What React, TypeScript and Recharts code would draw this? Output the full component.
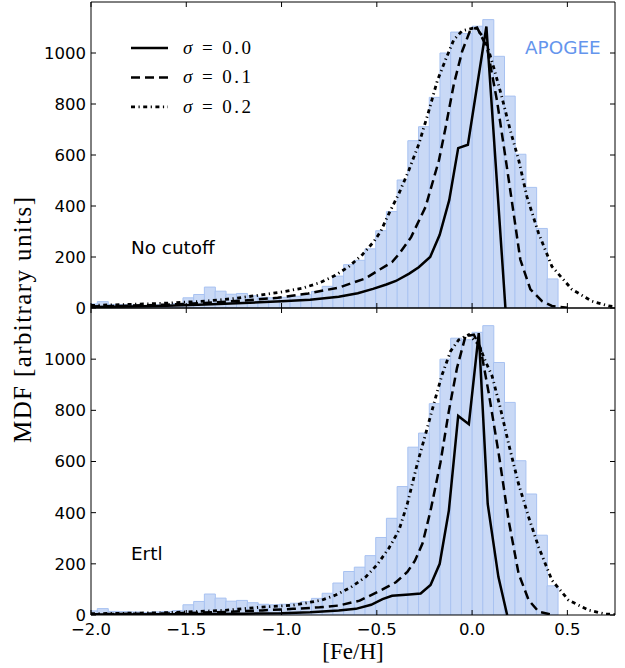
import React from 'react';
import { ComposedChart, Bar, Line, XAxis, YAxis, Legend } from 'recharts';

// APOGEE histogram: bin centres ([Fe/H]) and counts
const binCenters = [
  -1.9951, -1.9389, -1.8827, -1.8265, -1.7703, -1.7141, -1.6579, -1.6017, -1.5455, -1.4893,
  -1.4331, -1.3769, -1.3207, -1.2645, -1.2083, -1.1521, -1.0959, -1.0397, -0.9835, -0.9273,
  -0.8711, -0.8149, -0.7587, -0.7025, -0.6463, -0.5901, -0.5339, -0.4777, -0.4215, -0.3653,
  -0.3091, -0.2529, -0.1967, -0.1405, -0.0843, -0.0281, 0.0281, 0.0843, 0.1405, 0.1967,
  0.2529, 0.3091, 0.3653, 0.4215,
];
const apogeeCounts = [
  16, 25, 14, 13, 12, 10, 12, 14, 17, 40,
  53, 82, 66, 54, 57, 48, 42, 40, 42, 46,
  52, 65, 85, 125, 170, 187, 232, 303, 378, 502,
  656, 711, 826, 1000, 1082, 1076, 1105, 1131, 987, 831,
  603, 473, 312, 114,
];

const xTicks = [-2, -1.5, -1, -0.5, 0, 0.5];
const yTicks = [0, 200, 400, 600, 800, 1000];
const sigmaLabels = ['σ = 0.0', 'σ = 0.1', 'σ = 0.2'];

// model MDFs, [Fe/H, value]
const noCutoffSigma00 = [
  [-2.0, 4], [-1.8, 6], [-1.6, 9], [-1.4, 14], [-1.2, 20], [-1.0, 26], [-0.85, 32], [-0.7, 44],
  [-0.6, 58], [-0.52, 75], [-0.45, 92], [-0.4, 106], [-0.33, 135], [-0.28, 160], [-0.22, 200],
  [-0.17, 287], [-0.12, 423], [-0.073, 627], [-0.022, 640], [0.075, 1104], [0.175, 0],
];
const noCutoffSigma01 = [
  [-2.0, 6], [-1.8, 9], [-1.6, 13], [-1.4, 20], [-1.2, 29], [-1.02, 40], [-0.86, 57], [-0.7, 80],
  [-0.56, 116], [-0.5, 144], [-0.42, 180], [-0.38, 215], [-0.32, 278], [-0.244, 397], [-0.174, 579],
  [-0.139, 708], [-0.096, 877], [-0.052, 1007], [-0.009, 1091], [0.026, 1100], [0.079, 1020],
  [0.131, 812], [0.175, 591], [0.218, 371], [0.253, 190], [0.306, 73], [0.367, 27], [0.419, 8], [0.5, 1],
];
const noCutoffSigma02 = [
  [-2.0, 10], [-1.8, 14], [-1.6, 19], [-1.4, 27], [-1.25, 37], [-1.12, 50], [-0.99, 64], [-0.89, 78],
  [-0.8, 99], [-0.72, 127], [-0.646, 163], [-0.576, 209], [-0.515, 261], [-0.48, 300], [-0.436, 371],
  [-0.384, 449], [-0.332, 540], [-0.279, 644], [-0.227, 773], [-0.183, 890], [-0.139, 974],
  [-0.096, 1052], [-0.052, 1087], [0.018, 1100], [0.07, 1052], [0.114, 942], [0.157, 825],
  [0.201, 695], [0.245, 579], [0.288, 436], [0.349, 293], [0.419, 163], [0.524, 73], [0.628, 27],
  [0.716, 8], [0.75, 5],
];
const ertlSigma00 = [
  [-2.0, 2], [-1.6, 3], [-1.2, 5], [-1.0, 7], [-0.85, 11], [-0.7, 18], [-0.61, 24], [-0.53, 40],
  [-0.47, 62], [-0.42, 75], [-0.33, 80], [-0.27, 84], [-0.218, 117], [-0.17, 200], [-0.122, 408],
  [-0.073, 778], [-0.017, 746], [0.035, 1102], [0.082, 434], [0.138, 149], [0.184, 0],
];
const ertlSigma01 = [
  [-2.0, 3], [-1.6, 6], [-1.3, 12], [-1.1, 18], [-0.94, 24], [-0.8, 30], [-0.7, 37], [-0.59, 56],
  [-0.47, 100], [-0.4, 128], [-0.34, 168], [-0.3, 212], [-0.26, 280], [-0.218, 408], [-0.166, 596],
  [-0.122, 797], [-0.079, 966], [-0.035, 1089], [0.009, 1096], [0.044, 1044], [0.087, 869],
  [0.14, 629], [0.192, 369], [0.244, 162], [0.297, 58], [0.349, 13], [0.419, 1],
];
const ertlSigma02 = [
  [-2.0, 5], [-1.6, 9], [-1.3, 18], [-1.12, 30], [-0.94, 38], [-0.79, 58], [-0.716, 78], [-0.637, 108],
  [-0.558, 149], [-0.498, 197], [-0.436, 262], [-0.384, 331], [-0.34, 434], [-0.288, 590],
  [-0.244, 707], [-0.192, 849], [-0.157, 940], [-0.113, 1031], [-0.07, 1076], [-0.017, 1096],
  [0.035, 1057], [0.07, 992], [0.105, 934], [0.148, 810], [0.192, 668], [0.244, 512], [0.297, 382],
  [0.349, 266], [0.419, 136], [0.506, 58], [0.611, 19], [0.698, 4], [0.75, 2],
];

const histogram = binCenters.map((x, i) => ({ x, count: apogeeCounts[i] }));
const toPoints = (pairs: number[][]) => pairs.map(([x, v]) => ({ x, v }));

const dashes = [undefined, '9 5', '4 3.5 1.2 3.5'];
const widths = [2.5, 2.5, 2.8];
const X_DOMAIN = [-2, 0.75];
const Y_DOMAIN = [0, 1200];
const sans = 'DejaVu Sans';
const serif = 'Liberation Serif';
const tickFont = { fill: '#000', fontSize: 16.5, fontFamily: sans };
const blank = () => '';
const fmtX = (v: number) => (v < 0 ? '\u2212' : '') + Math.abs(v).toFixed(1);

function SigmaLegend({ payload }: any) {
  const items = (payload || []).filter((p: any) => p.type !== 'none');
  return (
    <svg width={150} height={95}>
      {items.map((p: any, i: number) => {
        const y = 18 + i * 29.4;
        const label: string = p.value;
        return (
          <g key={label}>
            <line x1={6} x2={43} y1={y} y2={y} stroke="#000" strokeWidth={widths[i]}
              strokeDasharray={dashes[i]} />
            <text x={58} y={y + 6} fontFamily={serif} fontSize={19} fill="#000"
              textLength={68} lengthAdjust="spacing">
              <tspan fontStyle="italic">{label[0]}</tspan>
              {label.slice(1)}
            </text>
          </g>
        );
      })}
    </svg>
  );
}

// one panel: plot area spans x 91..615, axes are 1px wide so they still render
function Panel({ height, margin, curves, bottom, title, titleY, legend }: any) {
  return (
    <ComposedChart width={625} height={height} margin={margin} data={histogram}
      barCategoryGap={0} barGap={0}>
      <XAxis
        xAxisId="fe"
        dataKey="x"
        type="number"
        domain={X_DOMAIN}
        allowDataOverflow
        ticks={xTicks}
        interval={0}
        height={bottom ? 53 : 1}
        stroke="#000"
        tickSize={-5}
        tickMargin={13}
        tick={tickFont}
        tickFormatter={bottom ? fmtX : blank}
        label={bottom ? { value: '[Fe/H]', position: 'insideBottom', offset: 9, fill: '#000', fontSize: 23, fontFamily: serif } : undefined}
      />
      <XAxis xAxisId="bins" dataKey="x" type="number" domain={X_DOMAIN} allowDataOverflow hide height={0} />
      <XAxis xAxisId="top" dataKey="x" orientation="top" type="number" domain={X_DOMAIN} allowDataOverflow
        ticks={xTicks} interval={0} height={1} stroke="#000" tickSize={-5} tickFormatter={blank} />
      <YAxis yAxisId="left" type="number" domain={Y_DOMAIN} allowDataOverflow ticks={yTicks}
        interval={0} width={1} stroke="#000" tickSize={-5} tickMargin={10} tick={tickFont} />
      <YAxis yAxisId="right" orientation="right" type="number" domain={Y_DOMAIN} allowDataOverflow
        ticks={yTicks} interval={0} width={1} stroke="#000" tickSize={-5} tickFormatter={blank} />
      <Bar xAxisId="bins" yAxisId="left" dataKey="count" fill="#c9d9f6"
        stroke="#a8c2f1" strokeWidth={1} legendType="none" isAnimationActive={false} />
      {curves.map((c: number[][], i: number) => (
        <Line
          key={sigmaLabels[i]}
          xAxisId="fe"
          yAxisId="left"
          data={toPoints(c)}
          dataKey="v"
          name={sigmaLabels[i]}
          type="linear"
          stroke="#000"
          strokeWidth={widths[i]}
          strokeDasharray={dashes[i]}
          dot={false}
          activeDot={false}
          isAnimationActive={false}
        />
      ))}
      {legend && (
        <Legend layout="vertical" align="center" verticalAlign="middle" content={SigmaLegend}
          wrapperStyle={{ left: 125, top: 30, width: 150, height: 95 }} />
      )}
      {legend && (
        <text x={525} y={54} fontFamily={sans} fontSize={18.4} fill="#6495ED">APOGEE</text>
      )}
      <text x={131} y={titleY} fontFamily={sans} fontSize={18.4} fill="#000">{title}</text>
    </ComposedChart>
  );
}

export default function App() {
  return (
    <div style={{ position: 'absolute', left: 0, top: 0, width: 625, height: 668, background: '#fff' }}>
      <div style={{ position: 'absolute', left: 0, top: 0 }}>
        <Panel
          height={330}
          margin={{ top: 1, right: 9, bottom: 21, left: 90 }}
          curves={[noCutoffSigma00, noCutoffSigma01, noCutoffSigma02]}
          bottom={false}
          title="No cutoff"
          titleY={254}
          legend
        />
      </div>
      <div style={{ position: 'absolute', left: 0, top: 307 }}>
        <Panel
          height={361}
          margin={{ top: 0, right: 9, bottom: 0, left: 90 }}
          curves={[ertlSigma00, ertlSigma01, ertlSigma02]}
          bottom
          title="Ertl"
          titleY={253}
          legend={false}
        />
      </div>
      <svg width={40} height={668} style={{ position: 'absolute', left: 0, top: 0 }}>
        <text transform="rotate(-90)" x={-320} y={31} textAnchor="middle" fontFamily={serif}
          fontSize={25} fill="#000" textLength={246} lengthAdjust="spacing">MDF [arbitrary units]</text>
      </svg>
    </div>
  );
}
